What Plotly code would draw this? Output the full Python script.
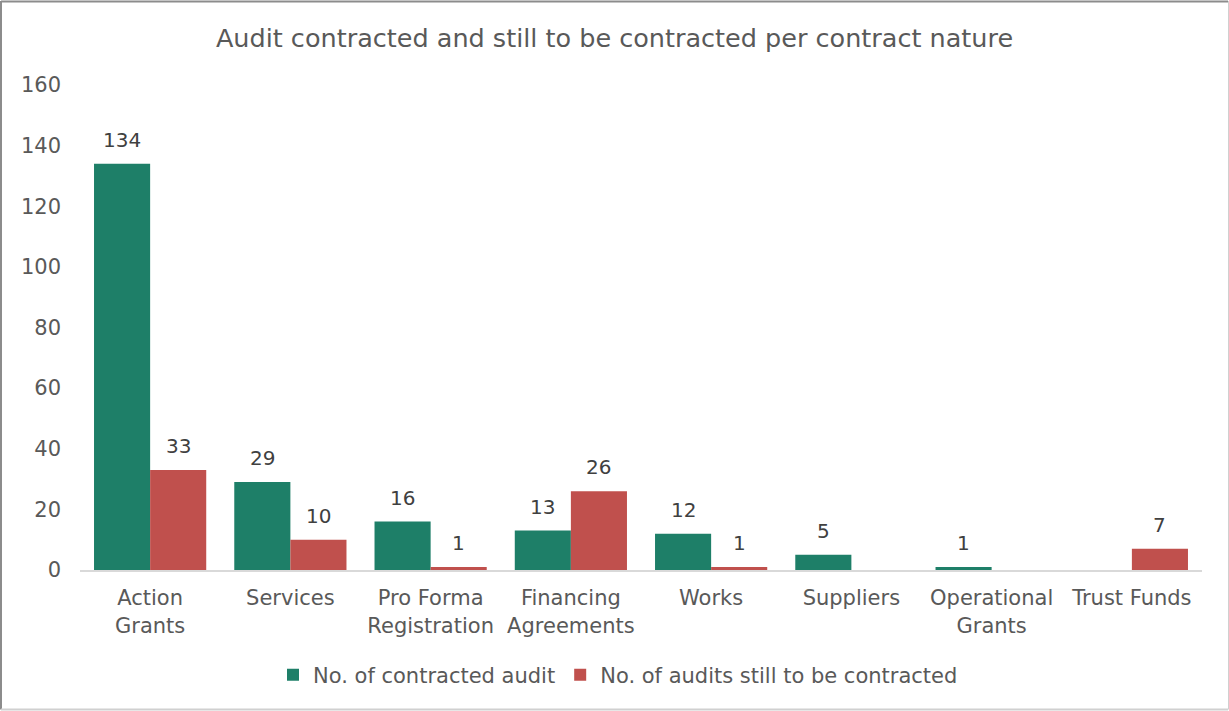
import plotly.graph_objects as go

categories = ["Action<br>Grants", "Services", "Pro Forma<br>Registration", "Financing<br>Agreements",
              "Works", "Suppliers", "Operational<br>Grants", "Trust Funds"]
contracted = [134, 29, 16, 13, 12, 5, 1, None]
to_be_contracted = [33, 10, 1, 26, 1, None, None, 7]

series_names = ["No. of contracted audit", "No. of audits still to be contracted"]
colors = ["#1e7f68", "#c0504d"]

FONT = "Verdana, DejaVu Sans, sans-serif"
W, H = 1229, 711
L, R, T, B = 80, 27, 85, 141
pw, ph = W - L - R, H - T - B

fig = go.Figure()
annotations = []
for i, (name, vals, col) in enumerate(zip(series_names, [contracted, to_be_contracted], colors)):
    fig.add_trace(go.Bar(
        x=categories, y=vals, name=name, marker_color=col,
        marker_line_width=0,
    ))
    # value labels above each bar, shifted onto the bar's half of the group
    shift = -28 if i == 0 else 28
    for c, v in zip(categories, vals):
        if v is None:
            continue
        annotations.append(dict(
            x=c, y=v, xref="x", yref="y", text=str(v), showarrow=False,
            xshift=shift, yshift=10, yanchor="bottom",
            font=dict(family=FONT, size=20, color="#404040"),
        ))

# outer frame of the chart area
px = lambda v: v / pw
py = lambda v: v / ph
frame = [
    dict(type="line", xref="paper", yref="paper", x0=px(-L + 1), x1=px(W - L - 1),
         y0=py(H - B - 1.5), y1=py(H - B - 1.5), line=dict(color="#8c8c8c", width=2)),
    dict(type="line", xref="paper", yref="paper", x0=px(-L + 1), x1=px(-L + 1),
         y0=py(-B + 1.5), y1=py(H - B - 1), line=dict(color="#8c8c8c", width=2)),
    dict(type="line", xref="paper", yref="paper", x0=px(-L + 1), x1=px(W - L - 1),
         y0=py(-B + 1.5), y1=py(-B + 1.5), line=dict(color="#d0d0d0", width=2)),
    dict(type="line", xref="paper", yref="paper", x0=px(W - L - 0.5), x1=px(W - L - 0.5),
         y0=py(-B + 1.5), y1=py(H - B - 1), line=dict(color="#d0d0d0", width=1)),
]

fig.update_layout(
    width=W, height=H,
    margin=dict(l=L, r=R, t=T, b=B),
    paper_bgcolor="white", plot_bgcolor="white",
    barmode="group", bargap=0.2, bargroupgap=0,
    title=dict(text="Audit contracted and still to be contracted per contract nature",
               x=0.5, xanchor="center", y=1 - 38 / H, yanchor="middle",
               font=dict(family=FONT, size=25.5, color="#595959")),
    font=dict(family=FONT, size=21, color="#595959"),
    xaxis=dict(showgrid=False, showline=True, linecolor="#d9d9d9", linewidth=2,
               ticks="", ticklabelstandoff=8,
               tickfont=dict(family=FONT, size=21, color="#595959")),
    yaxis=dict(range=[0, 160], dtick=20, showgrid=False, zeroline=False, showline=False,
               ticks="", ticklabelstandoff=18,
               tickfont=dict(family=FONT, size=21, color="#595959")),
    legend=dict(orientation="h", x=(618 - L) / pw, xanchor="center", y=-(675 - 570) / ph,
                yanchor="middle",
                font=dict(family=FONT, size=21, color="#595959"),
                itemwidth=30, traceorder="normal"),
    showlegend=True,
    annotations=annotations,
    shapes=frame,
)

fig.write_html("out.html")
